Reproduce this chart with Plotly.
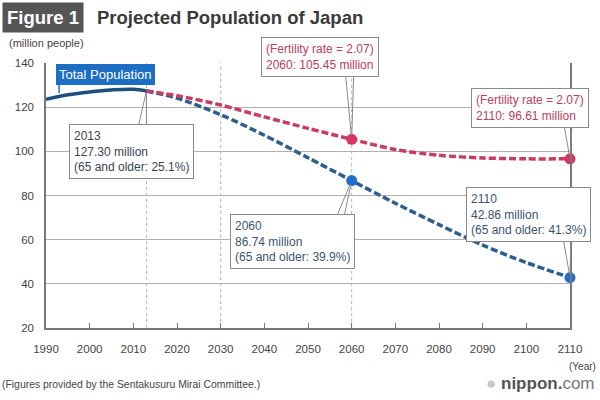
import plotly.graph_objects as go

# Data (million people)
hist_years = [1990, 1995, 2000, 2005, 2010, 2013]
hist_pop = [123.6, 125.6, 126.9, 127.8, 128.1, 127.3]

proj_years = [2013, 2020, 2030, 2040, 2050, 2060, 2070, 2080, 2090, 2100, 2110]
proj_base = [127.3, 124.1, 116.6, 107.3, 97.1, 86.74, 76.5, 66.8, 57.5, 49.6, 42.86]
proj_fert = [127.3, 125.2, 121.0, 115.6, 110.4, 105.45, 100.8, 98.2, 97.0, 96.6, 96.61]

marker_years = [2060, 2110]
marker_base = [86.74, 42.86]
marker_fert = [105.45, 96.61]

x_ticks = [1990, 2000, 2010, 2020, 2030, 2040, 2050, 2060, 2070, 2080, 2090, 2100, 2110]
y_ticks = [20, 40, 60, 80, 100, 120, 140]
guide_years = [2013, 2030, 2060]

BLUE_SOLID = "#1d4f7f"
BLUE_DASH = "#2b5f8e"
RED_DASH = "#c83d62"
BLUE_DOT = "#1f6fc8"
RED_DOT = "#dc3460"
TXT = "#444444"
GREY = "#8a8a8a"
FONT = "Liberation Sans, Arial, sans-serif"

# plot-area geometry in pixels (for placing text boxes in paper space)
L, R, T, B = 46, 570, 63, 328

fig = go.Figure()

fig.add_trace(go.Scatter(x=proj_years, y=proj_base, mode="lines",
                         line=dict(color=BLUE_DASH, width=3.5, dash="7px,3px",
                                   shape="spline", smoothing=0.8),
                         hoverinfo="skip", showlegend=False))
fig.add_trace(go.Scatter(x=proj_years, y=proj_fert, mode="lines",
                         line=dict(color=RED_DASH, width=3.5, dash="7px,3px",
                                   shape="spline", smoothing=0.8),
                         hoverinfo="skip", showlegend=False))
fig.add_trace(go.Scatter(x=hist_years, y=hist_pop, mode="lines",
                         line=dict(color=BLUE_SOLID, width=3.5, shape="spline"),
                         hoverinfo="skip", showlegend=False))
fig.add_trace(go.Scatter(x=marker_years, y=marker_base, mode="markers",
                         marker=dict(color=BLUE_DOT, size=11),
                         hoverinfo="skip", showlegend=False, cliponaxis=False))
fig.add_trace(go.Scatter(x=marker_years, y=marker_fert, mode="markers",
                         marker=dict(color=RED_DOT, size=11),
                         hoverinfo="skip", showlegend=False, cliponaxis=False))

for gy in guide_years:
    fig.add_shape(type="line", x0=gy, x1=gy, y0=20, y1=140, xref="x", yref="y",
                  line=dict(color="#b5b5b5", width=1, dash="dot"), layer="below")


def callout(px, py, tx, ty, color=GREY, standoff=0):
    """Wedge pointer from box edge (pixel offset tx, ty) to a data point."""
    for dx in (-4, 4):
        fig.add_annotation(x=px, y=py, xref="x", yref="y", ax=tx + dx, ay=ty,
                           text="", showarrow=True, arrowhead=0, arrowwidth=1,
                           arrowcolor=color, standoff=standoff)


def box(cx, cy, text, color, size=12):
    fig.add_annotation(x=(cx - L) / (R - L), y=(B - cy) / (B - T),
                       xref="paper", yref="paper", xanchor="center", yanchor="middle",
                       text=text, showarrow=False,
                       align="left", bordercolor=GREY, borderwidth=1,
                       bgcolor="white", borderpad=4,
                       font=dict(family=FONT, size=size, color=color))


# 2013 callout
callout(2013, 127.3, -4, 35, standoff=2)
box(131.5, 151.5, "2013<br>127.30 million<br>(65 and older: 25.1%)", "#3a4552")
# 2060 base
callout(2060, 86.74, -12, 38, standoff=4)
box(292, 241.5, "2060<br>86.74 million<br>(65 and older: 39.9%)", "#3a5570")
# 2110 base
callout(2110, 42.86, -3, -40, standoff=4)
box(528.5, 214, "2110<br>42.86 million<br>(65 and older: 41.3%)", "#3a5570")
# 2060 fertility
callout(2060, 105.45, -2, -64, standoff=4)
box(319.5, 57.5, "(Fertility rate = 2.07)<br>2060: 105.45 million", "#b8405e")
# 2110 fertility
callout(2110, 96.61, -2, -34, standoff=4)
box(530, 107.5, "(Fertility rate = 2.07)<br>2110: 96.61 million", "#b8405e")

# Total Population label
fig.add_annotation(x=1993, y=126.4, xref="x", yref="y", ax=0, ay=-10,
                   text="", showarrow=True, arrowhead=0, arrowwidth=1.5,
                   arrowcolor="#1b6ec2")
fig.add_annotation(x=(105 - L) / (R - L), y=(B - 74.5) / (B - T),
                   xref="paper", yref="paper", xanchor="center", yanchor="middle",
                   text="Total Population", showarrow=False,
                   bgcolor="#1b6ec2", bordercolor="#1b6ec2", borderpad=2,
                   font=dict(family=FONT, size=13, color="white"))

# Titles and notes
fig.add_annotation(xref="paper", yref="paper", x=(2 - L) / 524, y=1 + (T - 17) / 265,
                   xanchor="left", yanchor="middle", showarrow=False,
                   text="<b>Figure 1</b>", bgcolor="#555555", borderpad=4,
                   font=dict(family=FONT, size=18.5, color="white"))
fig.add_annotation(xref="paper", yref="paper", x=(95 - L) / 524, y=1 + (T - 17) / 265,
                   xanchor="left", yanchor="middle", showarrow=False,
                   text="<b>Projected Population of Japan</b>",
                   font=dict(family=FONT, size=18.5, color="#3a3a3a"))
fig.add_annotation(xref="paper", yref="paper", x=(7 - L) / 524, y=1 + (T - 43) / 265,
                   xanchor="left", yanchor="middle", showarrow=False,
                   text="(million people)", font=dict(family=FONT, size=11, color=TXT))
fig.add_annotation(xref="paper", yref="paper", x=(598 - L) / 524, y=1 - (366 - T) / 265,
                   xanchor="right", yanchor="middle", showarrow=False,
                   text="(Year)", font=dict(family=FONT, size=10, color=TXT))
fig.add_annotation(xref="paper", yref="paper", x=(0 - L) / 524, y=1 - (384 - T) / 265,
                   xanchor="left", yanchor="middle", showarrow=False,
                   text="(Figures provided by the Sentakusuru Mirai Committee.)",
                   font=dict(family=FONT, size=10.4, color=TXT))
fig.add_annotation(xref="paper", yref="paper", x=(597 - L) / 524, y=1 - (383 - T) / 265,
                   xanchor="right", yanchor="middle", showarrow=False,
                   text="<span style='color:#c8c8c8'>●</span> <b>nippon.</b><span style='color:#777777'>com</span>",
                   font=dict(family=FONT, size=17, color="#555555"))

fig.update_layout(
    width=600, height=400,
    margin=dict(l=L, r=600 - R, t=T, b=400 - B),
    paper_bgcolor="white", plot_bgcolor="white",
    font=dict(family=FONT, color=TXT, size=11),
    xaxis=dict(range=[1990, 2110], tickvals=x_ticks, ticks="inside", ticklen=5,
               tickcolor="#777777", showgrid=False, zeroline=False,
               showline=True, linecolor="#777777", linewidth=1.5, mirror=False,
               ticklabelstandoff=9,
               tickfont=dict(size=11.5, color=TXT)),
    yaxis=dict(range=[20, 140], tickvals=y_ticks, showgrid=True,
               gridcolor="#b0b0b0", gridwidth=1, zeroline=False,
               showline=True, linecolor="#777777", linewidth=1.5, mirror=True,
               ticks="", ticklabelstandoff=8,
               tickfont=dict(size=11.5, color=TXT)),
)

fig.write_html("out.html", config={"displayModeBar": False},
               post_script="document.body.style.margin='0';document.body.style.overflow='hidden';")
